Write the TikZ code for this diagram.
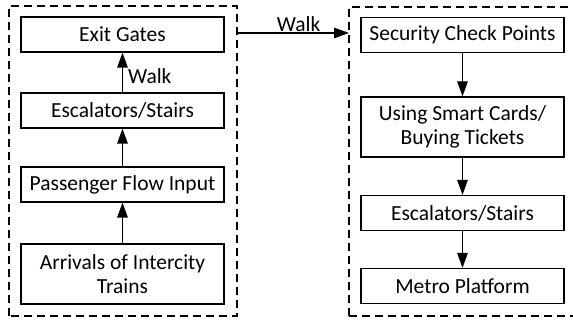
\documentclass[tikz,border=0pt]{standalone}
\usepackage{fontspec}
\setmainfont{Carlito}
\usetikzlibrary{arrows.meta}

\tikzset{
	stage/.style={draw, line width=1.2pt, minimum width=203pt, minimum height=35pt,
		inner sep=0pt, align=center, font=\fontsize{21.5}{24}\selectfont},
	flow/.style={line width=1.2pt, -{Triangle[length=15pt,width=10.5pt]}},
	group/.style={draw, line width=1.2pt, dash pattern=on 8pt off 5pt}
}

\begin{document}
\begin{tikzpicture}[x=1pt,y=1pt]
	\useasboundingbox (0,0) rectangle (573,320);
	% the two dashed groups
	\draw[group] (9,4) rectangle (237,314);
	\draw[group] (349,4) rectangle (590,313);
	% left column, bottom to top
	\node[stage, minimum height=60pt] (arrivals) at (122.5,46) {Arrivals of Intercity\\Trains};
	\node[stage] (input) at (122.5,135.5) {Passenger Flow Input};
	\node[stage] (stairsL) at (122.5,209.5) {Escalators/Stairs};
	\node[stage] (exit) at (122.5,285.5) {Exit Gates};
	% right column, top to bottom
	\node[stage] (security) at (462.5,285) {Security Check Points};
	\node[stage, minimum height=60pt] (cards) at (462.5,193) {Using Smart Cards/\\Buying Tickets};
	\node[stage] (stairsR) at (462.5,107) {Escalators/Stairs};
	\node[stage] (metro) at (462.5,34) {Metro Platform};
	\coordinate (gateL) at (237,287);
	\coordinate (gateR) at (349,287);
	% arrows
	\draw[flow] (arrivals) -- (input);
	\draw[flow] (input) -- (stairsL);
	\draw[flow] (stairsL) -- node[anchor=west, pos=0.4, inner sep=2pt, xshift=3pt, font=\fontsize{21.5}{24}\selectfont] {Walk} (exit);
	\draw[flow] (gateL) -- node[anchor=south, pos=0.55, inner sep=1pt, font=\fontsize{21.5}{24}\selectfont] {Walk} (gateR);
	\draw[flow] (security) -- (cards);
	\draw[flow] (cards) -- (stairsR);
	\draw[flow] (stairsR) -- (metro);
\end{tikzpicture}
\end{document}
